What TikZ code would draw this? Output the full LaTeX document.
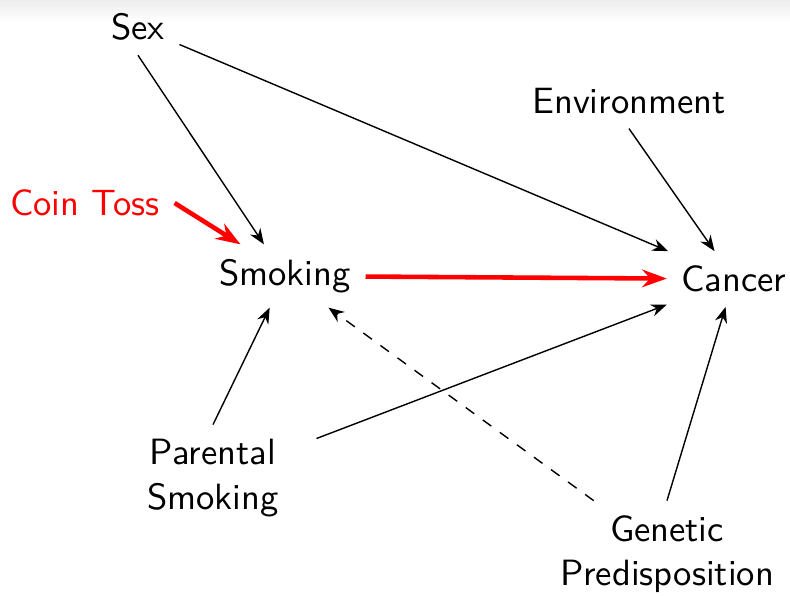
\documentclass[tikz,border=0pt]{standalone}
\usepackage{amsmath,amssymb,tikz,xcolor}
\usetikzlibrary{arrows.meta}

\begin{document}
\begin{tikzpicture}[x=0.01cm,y=-0.01cm,font=\sffamily\fontsize{10.4}{12.6}\selectfont,
        var/.style={inner sep=4pt,align=center},
        causal/.style={-{Stealth[length=4.5pt,width=3.5pt]},line width=0.4pt},
        forced/.style={-{Stealth[length=7pt,width=5pt]},line width=1.3pt,red},
        hidden/.style={causal,dashed}]
        \useasboundingbox (0,0) rectangle (790,596);
        \shade[top color=gray!14,bottom color=white] (0,0) rectangle (790,22);
        \node[var] (sex) at (138,27) {Sex};
        \node[var] (env) at (629,101) {Environment};
        \node[var,red] (coin) at (85,203) {Coin Toss};
        \node[var] (smoke) at (285,276) {Smoking};
        \node[var] (cancer) at (734,279) {Cancer};
        \node[var] (parent) at (213,478) {Parental\\Smoking};
        \node[var] (gene) at (667,554) {Genetic\\Predisposition};
        % edges
        \draw[causal] (sex.south) -- (smoke);
        \draw[causal] (sex) -- (cancer);
        \draw[causal] (env.south) -- (cancer);
        \draw[forced] (coin.east) -- ([xshift=0.36cm]smoke.north west);
        \draw[forced] (smoke) -- (cancer);
        \draw[causal] (parent.north) -- (smoke);
        \draw[causal,shorten <=7pt] (parent) -- (cancer);
        \draw[hidden] (gene) -- (smoke);
        \draw[causal] (gene.north) -- (cancer);
    \end{tikzpicture}
\end{document}
